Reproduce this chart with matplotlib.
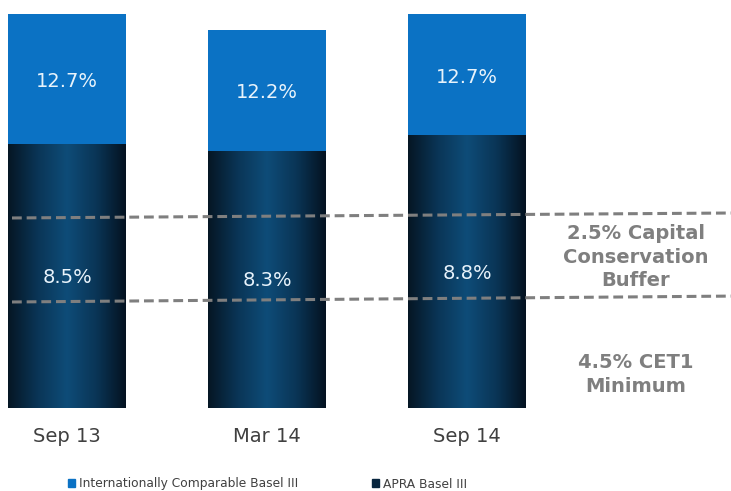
import numpy as np
import matplotlib
matplotlib.use('Agg')
import matplotlib.pyplot as plt
from matplotlib.colors import LinearSegmentedColormap
from matplotlib.patches import Patch

# Capital ratios (%)
periods = ['Sep 13', 'Mar 14', 'Sep 14']
apra = [8.5, 8.3, 8.8]
intl = [12.7, 12.2, 12.7]

# reference lines drawn across the chart (left end, right end)
buffer_line = [6.13, 6.29]
minimum_line = [3.42, 3.61]

blue = '#0b72c4'
navy = '#08263f'
grey = '#7f7f7f'

fig = plt.figure(figsize=(7.31, 4.91), dpi=100)
ax = fig.add_axes([0, 83 / 491, 1, 403 / 491])
ax.set_xlim(-0.335, 3.32)
ax.set_ylim(0, 13.0)
ax.axis('off')

x = np.arange(len(periods))
w = 0.59
top = [t - b for t, b in zip(intl, apra)]

bottom_bars = ax.bar(x, apra, width=w, color=navy, zorder=2)
ax.bar(x, top, bottom=apra, width=w, color=blue, zorder=2)

# horizontal shading on the dark segments
shade = LinearSegmentedColormap.from_list(
    'shade', ['#051624', '#0a3556', '#0e4c78', '#0a3556', '#041220'])
grad = np.linspace(0, 1, 256).reshape(1, -1)
for bar in bottom_bars:
    x0, y0 = bar.get_x(), bar.get_y()
    im = ax.imshow(grad, cmap=shade, aspect='auto', zorder=3,
                   extent=[x0, x0 + bar.get_width(), y0, y0 + bar.get_height()])
    im.set_clip_path(bar)
ax.set_xlim(-0.335, 3.32)
ax.set_ylim(0, 13.0)

for i in range(len(periods)):
    ax.text(x[i], apra[i] + top[i] / 2 - 0.08, f'{intl[i]}%', ha='center', va='center',
            color='#e8f3fb', fontsize=14, zorder=5)
    ax.text(x[i], apra[i] / 2 - 0.05, f'{apra[i]}%', ha='center', va='center',
            color='#e8f3fb', fontsize=14, zorder=5)
    ax.text(x[i], -0.93, periods[i], ha='center', va='center',
            color='#404040', fontsize=14)

xs = [-0.275, 3.32]
ax.plot(xs, buffer_line, color=grey, lw=2.2, ls=(0, (3.2, 1.6)), zorder=6)
ax.plot(xs, minimum_line, color=grey, lw=2.2, ls=(0, (3.2, 1.6)), zorder=6)

ax.text(2.845, 4.87, '2.5% Capital\nConservation\nBuffer', ha='center', va='center',
        color=grey, fontsize=14, fontweight='bold', linespacing=1.3)
ax.text(2.845, 1.08, '4.5% CET1\nMinimum', ha='center', va='center',
        color=grey, fontsize=14, fontweight='bold', linespacing=1.3)

handles = [Patch(color=blue), Patch(color=navy)]
fig.legend(handles, ['Internationally Comparable Basel III', 'APRA Basel III'],
           loc='center left', bbox_to_anchor=(62 / 731, 1 - 484 / 491), ncol=2,
           frameon=False, fontsize=8.8, handlelength=0.6, handleheight=0.6,
           handletextpad=0.3, columnspacing=6.0, labelcolor='#404040',
           borderpad=0)

fig.savefig('out.png', dpi=100)
